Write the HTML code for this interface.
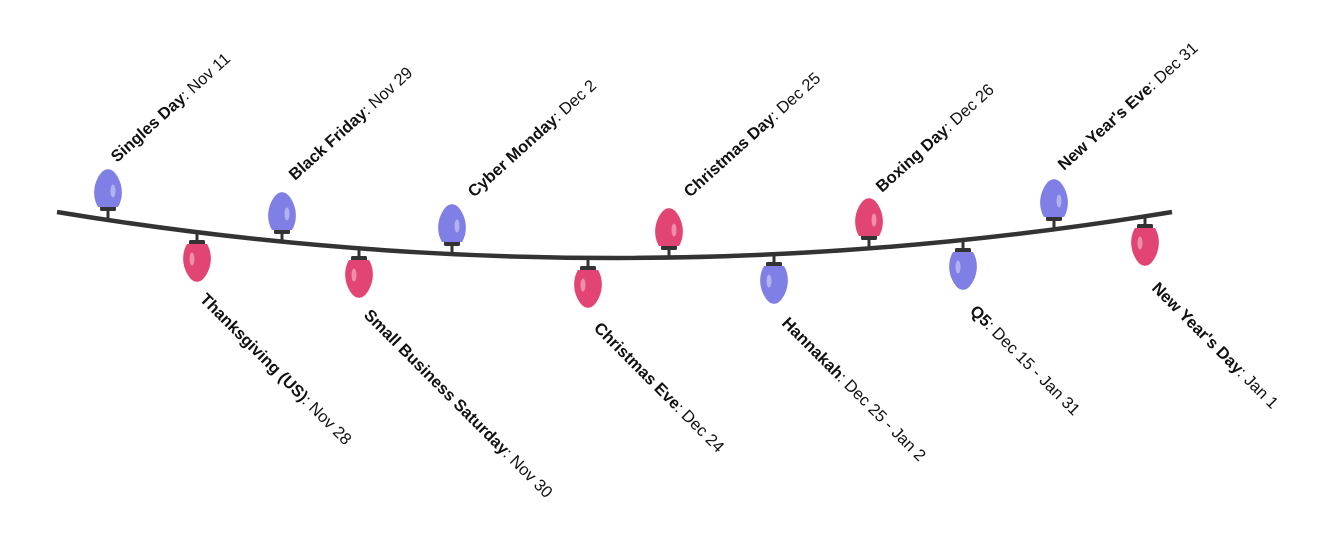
<!DOCTYPE html>
<html><head><meta charset="utf-8"><style>
html,body{margin:0;padding:0;background:#fff;width:1342px;height:547px;overflow:hidden}
svg text{font-family:"Liberation Sans",sans-serif;font-size:16.5px;fill:#111}
</style></head><body>
<svg width="1342" height="547" viewBox="0 0 1342 547" xmlns="http://www.w3.org/2000/svg">
<defs>
<g id="bu">
<line x1="0" y1="0" x2="0" y2="-9" stroke="#333" stroke-width="3"/>
<rect x="-8" y="-13" width="16" height="5" rx="1.5" fill="#333"/>
<path d="M-10,-12 C-16,-22 -15,-36 -7,-46 C-3,-51 3,-51 7,-46 C15,-36 16,-22 10,-12 Z"/>
<ellipse cx="5" cy="-28" rx="2.5" ry="6.5" fill="#fff" opacity="0.4"/>
</g>
<g id="bd">
<line x1="0" y1="0" x2="0" y2="9" stroke="#333" stroke-width="3"/>
<rect x="-8" y="8" width="16" height="5" rx="1.5" fill="#333"/>
<path d="M-10,12 C-16,22 -15,36 -7,46 C-3,51 3,51 7,46 C15,36 16,22 10,12 Z"/>
<ellipse cx="-5" cy="27" rx="2.5" ry="6.5" fill="#fff" opacity="0.4"/>
</g>
</defs>
<path d="M57,212 Q614,304 1172,212" fill="none" stroke="#333" stroke-width="4.5"/>
<g fill="#7f7fe6">
<use href="#bu" x="108" y="219"/>
<use href="#bu" x="282" y="242"/>
<use href="#bu" x="452" y="254"/>
<use href="#bu" x="1054" y="229"/>
<use href="#bd" x="774" y="254"/>
<use href="#bd" x="963" y="240"/>
</g>
<g fill="#e24474">
<use href="#bu" x="669" y="258"/>
<use href="#bu" x="869" y="248"/>
<use href="#bd" x="197" y="232"/>
<use href="#bd" x="359" y="248"/>
<use href="#bd" x="588" y="258"/>
<use href="#bd" x="1145" y="216"/>
</g>
<text transform="translate(117,163) rotate(-42)"><tspan font-weight="bold">Singles Day</tspan>: Nov 11</text>
<text transform="translate(295,181) rotate(-42)"><tspan font-weight="bold">Black Friday</tspan>: Nov 29</text>
<text transform="translate(474,198) rotate(-42)"><tspan font-weight="bold">Cyber Monday</tspan>: Dec 2</text>
<text transform="translate(690,198) rotate(-42)"><tspan font-weight="bold">Christmas Day</tspan>: Dec 25</text>
<text transform="translate(882,193) rotate(-42)"><tspan font-weight="bold">Boxing Day</tspan>: Dec 26</text>
<text transform="translate(1064,171) rotate(-42)"><tspan font-weight="bold">New Year's Eve</tspan>: Dec 31</text>
<text transform="translate(199,300) rotate(45)"><tspan font-weight="bold">Thanksgiving (US)</tspan>: Nov 28</text>
<text transform="translate(363,316) rotate(45)"><tspan font-weight="bold">Small Business Saturday</tspan>: Nov 30</text>
<text transform="translate(593,329) rotate(45)"><tspan font-weight="bold">Christmas Eve</tspan>: Dec 24</text>
<text transform="translate(781,324) rotate(45)"><tspan font-weight="bold">Hannakah</tspan>: Dec 25 - Jan 2</text>
<text transform="translate(969,312) rotate(45)"><tspan font-weight="bold">Q5</tspan>: Dec 15 - Jan 31</text>
<text transform="translate(1151,289) rotate(45)"><tspan font-weight="bold">New Year's Day</tspan>: Jan 1</text>
</svg>
</body></html>
